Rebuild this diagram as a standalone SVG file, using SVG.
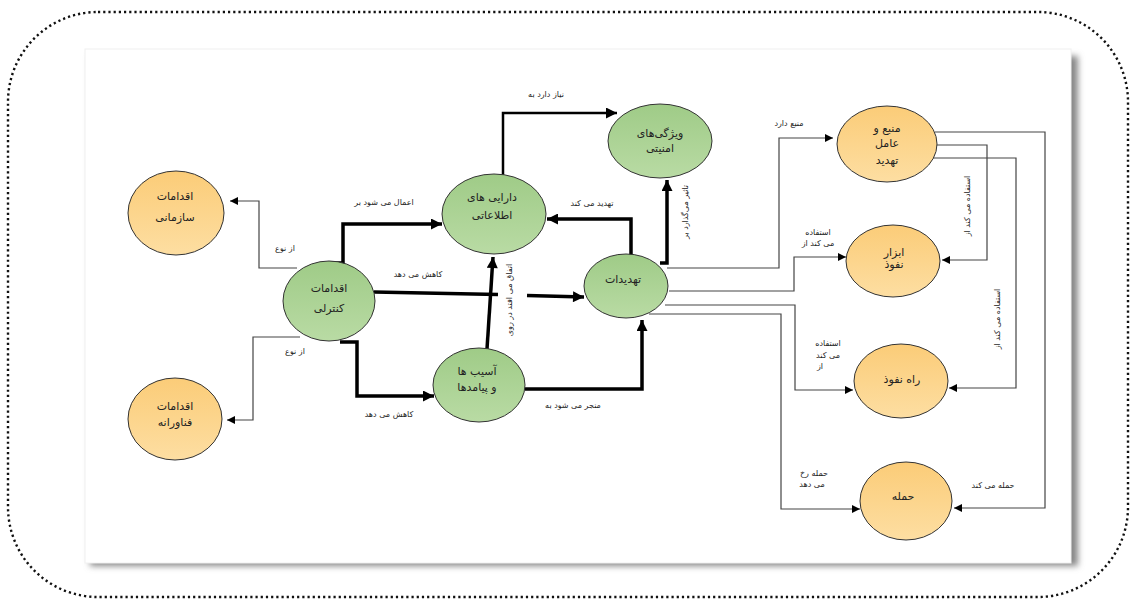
<svg xmlns="http://www.w3.org/2000/svg" width="1134" height="601" viewBox="0 0 1134 601">
<style>
.frame{fill:none;stroke:#111;stroke-width:2.4;stroke-dasharray:2.2 3;stroke-linecap:butt}
.g{fill:url(#gg);stroke:#333;stroke-width:1}
.o{fill:url(#go);stroke:#333;stroke-width:1}
.nt{font-family:"DejaVu Sans",sans-serif;font-size:11px;fill:#222;text-anchor:middle}
.el{font-family:"DejaVu Sans",sans-serif;font-size:8px;fill:#222;text-anchor:middle}
.thin{fill:none;stroke:#444;stroke-width:1.2}
.thick{fill:none;stroke:#000;stroke-width:3.5}
.med{fill:none;stroke:#000;stroke-width:2.5}
</style>
<defs>
<linearGradient id="gg" x1="0" y1="0" x2="0" y2="1"><stop offset="0" stop-color="#9fcb87"/><stop offset="1" stop-color="#b9dba4"/></linearGradient>
<linearGradient id="go" x1="0" y1="0" x2="0" y2="1"><stop offset="0" stop-color="#fbcc78"/><stop offset="1" stop-color="#fddea2"/></linearGradient>
<filter id="sh" x="-5%" y="-5%" width="110%" height="110%"><feGaussianBlur stdDeviation="3"/></filter>
<marker id="a" viewBox="0 0 10 10" refX="10" refY="5" markerWidth="9" markerHeight="8" markerUnits="userSpaceOnUse" orient="auto"><path d="M0,0 L10,5 L0,10 z" fill="#000"/></marker>
<marker id="A" viewBox="0 0 10 10" refX="10" refY="5" markerWidth="13" markerHeight="11" markerUnits="userSpaceOnUse" orient="auto"><path d="M0,0 L10,5 L0,10 z" fill="#000"/></marker>
</defs>
<rect x="0" y="0" width="1134" height="601" fill="#fff"/>
<rect class="frame" x="8" y="12" width="1120" height="585" rx="90" ry="90"/>
<rect x="90" y="56" width="988" height="510" fill="#888" filter="url(#sh)"/>
<rect x="85" y="49" width="986" height="514" fill="#fff" stroke="#f0f0f0" stroke-width="1"/>

<g id="connectors">
<path class="thin" d="M297,268 H259 V201 H230" marker-end="url(#a)"/>
<path class="thin" d="M300,337 H253 V420 H227" marker-end="url(#a)"/>
<path class="thin" d="M667,268 H779 V138 H833" marker-end="url(#a)"/>
<path class="thin" d="M669,291 H794 V257 H846" marker-end="url(#a)"/>
<path class="thin" d="M665,305 H795 V390 H853" marker-end="url(#a)"/>
<path class="thin" d="M649,314 H781 V509 H860" marker-end="url(#a)"/>
<path class="thin" d="M935,145 H987 V260 H942" marker-end="url(#a)"/>
<path class="thin" d="M932,158 H1016 V388 H949" marker-end="url(#a)"/>
<path class="thin" d="M935,132 H1045 V508 H954" marker-end="url(#a)"/>
<path class="thick" d="M328,263 H343 V224 H442" marker-end="url(#A)"/>
<path class="thick" d="M374,292 L498,294.5"/>
<path class="thick" d="M527,295.5 L584,297" marker-end="url(#A)"/>
<path class="thick" d="M340,342 H357 V396 H434" marker-end="url(#A)"/>
<path class="thick" d="M487,349 L493,257" marker-end="url(#A)"/>
<path class="thick" d="M525,389 H642 V320" marker-end="url(#A)"/>
<path class="med" d="M503,175 V113 H617" marker-end="url(#A)"/>
<path class="thick" d="M625,262 H631 V219 H547" marker-end="url(#A)"/>
<path class="thick" d="M660,263 H667 V180" marker-end="url(#A)"/>

<text class="el" x="285" y="251">از نوع</text>
<text class="el" x="295" y="354">از نوع</text>
<text class="el" x="384" y="205">اعمال می شود بر</text>
<text class="el" x="418" y="277">کاهش می دهد</text>
<text class="el" x="389" y="417">کاهش می دهد</text>
<text class="el" x="546" y="97">نیاز دارد به</text>
<text class="el" x="592" y="206">تهدید می کند</text>
<text class="el" x="573" y="408">منجر می شود به</text>
<text class="el" transform="translate(512,300) rotate(-90)">اتفاق می افتد در روی</text>
<text class="el" transform="translate(688,212) rotate(-90)">تاثیر می‌گذارد بر</text>
<text class="el" x="789" y="126">منبع دارد</text>
<text class="el" x="818" y="235">استفاده</text>
<text class="el" x="818" y="246">می کند از</text>
<text class="el" transform="translate(970,206) rotate(-90)">استفاده می کند از</text>
<text class="el" transform="translate(1000,319) rotate(-90)">استفاده می کند از</text>
<text class="el" x="828" y="346">استفاده</text>
<text class="el" x="828" y="358">می کند</text>
<text class="el" x="820" y="369">از</text>
<text class="el" x="814" y="476">حمله رخ</text>
<text class="el" x="812" y="487">می دهد</text>
<text class="el" x="993" y="488">حمله می کند</text>
</g>

<g id="n-org"><ellipse class="o" cx="176" cy="213" rx="48" ry="42"/><text class="nt" x="175" y="200">اقدامات</text><text class="nt" x="175" y="221">سازمانی</text></g>
<g id="n-tech"><ellipse class="o" cx="175" cy="419" rx="47" ry="41"/><text class="nt" x="175" y="410">اقدامات</text><text class="nt" x="175" y="426">فناورانه</text></g>
<g id="n-ctrl"><ellipse class="g" cx="329" cy="301" rx="46" ry="40"/><text class="nt" x="329" y="292">اقدامات</text><text class="nt" x="329" y="312">کنترلی</text></g>
<g id="n-asset"><ellipse class="g" cx="494" cy="214" rx="52" ry="40"/><text class="nt" x="492" y="201">دارایی های</text><text class="nt" x="492" y="219">اطلاعاتی</text></g>
<g id="n-sec"><ellipse class="g" cx="660" cy="141" rx="52" ry="37"/><text class="nt" x="660" y="137">ویژگی‌های</text><text class="nt" x="660" y="152">امنیتی</text></g>
<g id="n-threat"><ellipse class="g" cx="626" cy="286" rx="42" ry="32"/><text class="nt" x="623" y="283">تهدیدات</text></g>
<g id="n-vuln"><ellipse class="g" cx="479" cy="385" rx="46" ry="37"/><text class="nt" x="477" y="375">آسیب ها</text><text class="nt" x="477" y="391">و پیامدها</text></g>
<g id="n-src"><ellipse class="o" cx="887" cy="144" rx="50" ry="38"/><text class="nt" x="887" y="132">منبع و</text><text class="nt" x="887" y="147">عامل</text><text class="nt" x="887" y="164">تهدید</text></g>
<g id="n-tool"><ellipse class="o" cx="893" cy="261" rx="47" ry="36"/><text class="nt" x="894" y="256">ابزار</text><text class="nt" x="894" y="268">نفوذ</text></g>
<g id="n-path"><ellipse class="o" cx="901" cy="381" rx="47" ry="37"/><text class="nt" x="902" y="383">راه نفوذ</text></g>
<g id="n-attack"><ellipse class="o" cx="906" cy="501" rx="46" ry="39"/><text class="nt" x="903" y="500">حمله</text></g>
</svg>
